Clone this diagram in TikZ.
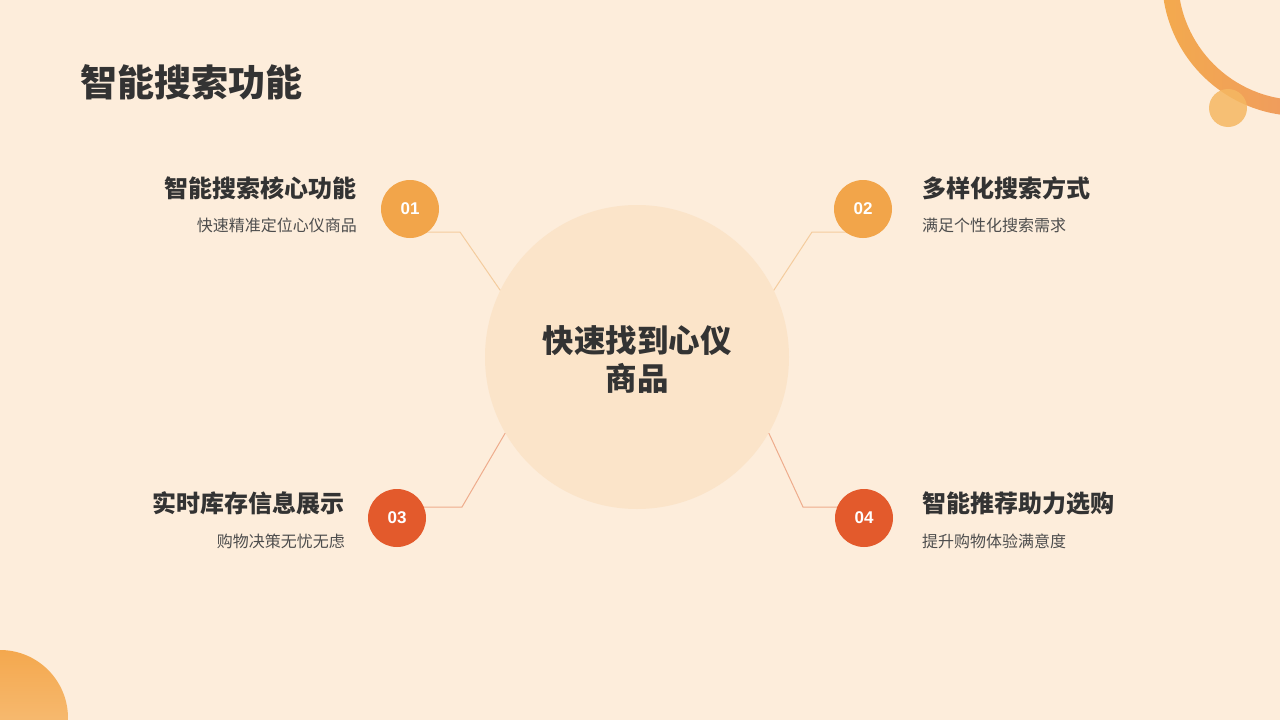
\documentclass[tikz,border=0pt]{standalone}
\usepackage{fontspec}
\setmainfont{Noto Sans CJK SC}
\newfontfamily\numfont{Liberation Sans}
\usetikzlibrary{positioning}

\definecolor{bgpeach}{RGB}{253,237,219}
\definecolor{hubpeach}{RGB}{251,228,201}
\definecolor{dotorange}{RGB}{242,165,74}
\definecolor{dotred}{RGB}{227,90,44}
\definecolor{lineorange}{RGB}{244,204,158}
\definecolor{linered}{RGB}{238,172,140}
\definecolor{textdark}{RGB}{51,51,51}
\definecolor{textgray}{RGB}{77,77,77}
\definecolor{ringorange}{RGB}{243,170,78}
\definecolor{ringsalmon}{RGB}{236,140,112}
\definecolor{blobyellow}{RGB}{245,184,98}
\definecolor{cornerdeep}{RGB}{244,168,78}
\definecolor{cornerlight}{RGB}{248,200,140}

\begin{document}
\begin{tikzpicture}[
  x=1pt,
  y=-1pt,
  numdot/.style={
    circle,
    draw=none,
    minimum size=58pt,
    inner sep=0pt,
    text=white,
    font=\numfont\bfseries\fontsize{17}{17}\selectfont
  },
  headtext/.style={
    inner sep=0pt,
    text=textdark,
    font=\bfseries\fontsize{24}{24}\selectfont
  },
  subtext/.style={
    inner sep=0pt,
    text=textgray,
    font=\fontsize{16}{16}\selectfont
  },
  link/.style={
    line width=1pt
  }
]
\useasboundingbox (0,0) rectangle (1280,720);
\fill[bgpeach] (0,0) rectangle (1280,720);

% corner shapes
\shade[left color=ringorange, right color=ringsalmon, even odd rule]
  (1300,-22) circle (138) (1300,-22) circle (122);
\fill[fill=blobyellow, fill opacity=0.85] (1228,108) circle (19);
\shade[shading angle=135, top color=cornerdeep, bottom color=cornerlight]
  (0,718) circle (68);

\node[headtext, anchor=west, font=\bfseries\fontsize{37}{37}\selectfont] (title) at (80,82) {智能搜索功能};

% hub
\node[circle, fill=hubpeach, minimum size=304pt, inner sep=0pt] (hub) at (637,357) {};
\node[align=center, text=textdark, font=\bfseries\fontsize{31.5}{38}\selectfont] (hubtext) at (637,360) {快速找到心仪\\商品};

\coordinate (k1) at (460,232);
\coordinate (k2) at (812,232);
\coordinate (k3) at (462,507);
\coordinate (k4) at (803,507);

\node[numdot] (n1) at (410,209) {};
\node[numdot] (n2) at (863,209) {};
\node[numdot] (n3) at (397,518) {};
\node[numdot] (n4) at (864,518) {};

\draw[link, lineorange] (hub.154) -- (k1) -- (k1 -| n1);
\draw[link, lineorange] (hub.26) -- (k2) -- (k2 -| n2);
\draw[link, linered] (hub.210) -- (k3) -- (k3 -| n3);
\draw[link, linered] (hub.330) -- (k4) -- (k4 -| n4);

\node[numdot, fill=dotorange] at (n1) {01};
\node[numdot, fill=dotorange] at (n2) {02};
\node[numdot, fill=dotred] at (n3) {03};
\node[numdot, fill=dotred] at (n4) {04};

\node[headtext, anchor=east] (h1) at (357,188) {智能搜索核心功能};
\node[subtext, anchor=east] (s1) at (357,225) {快速精准定位心仪商品};
\node[headtext, anchor=west] (h2) at (922,188) {多样化搜索方式};
\node[subtext, anchor=west] (s2) at (922,225) {满足个性化搜索需求};
\node[headtext, anchor=east] (h3) at (345,503) {实时库存信息展示};
\node[subtext, anchor=east] (s3) at (345,541) {购物决策无忧无虑};
\node[headtext, anchor=west] (h4) at (922,503) {智能推荐助力选购};
\node[subtext, anchor=west] (s4) at (922,541) {提升购物体验满意度};
\end{tikzpicture}
\end{document}
